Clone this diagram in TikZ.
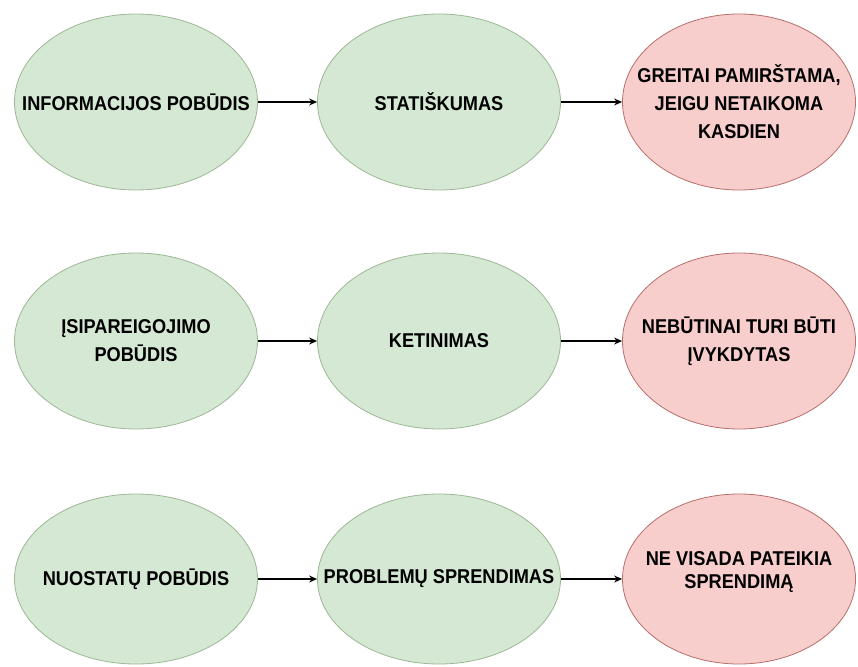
\documentclass[tikz,border=0pt]{standalone}
\usepackage{fontspec}
\setmainfont{Liberation Sans}[FakeStretch=0.91]
\usetikzlibrary{shapes.geometric,arrows.meta}
\definecolor{gfill}{HTML}{D5E8D4}
\definecolor{gline}{HTML}{9CB894}
\definecolor{rfill}{HTML}{F8CECC}
\definecolor{rline}{HTML}{B86E6A}
\begin{document}
\begin{tikzpicture}[x=1pt,y=-1pt,
  oval/.style={ellipse, minimum width=243pt, minimum height=176pt, inner sep=0pt, line width=0.8pt},
  gnode/.style={oval, fill=gfill, draw=gline},
  rnode/.style={oval, fill=rfill, draw=rline, minimum width=233pt},
  lbl/.style={align=center, inner sep=0pt, font=\fontsize{20}{28}\selectfont\bfseries},
  conn/.style={-{Stealth[length=8pt,width=7pt]}, line width=1.2pt, black}]
\useasboundingbox (0,0) rectangle (858,666);
\node[gnode] (a1) at (136,102) {};
\node[gnode] (b1) at (439,102) {};
\node[rnode] (c1) at (739,102) {};
\node[gnode] (a2) at (136,341) {};
\node[gnode] (b2) at (439,341) {};
\node[rnode] (c2) at (739,341) {};
\node[gnode, minimum height=170pt] (a3) at (136,579) {};
\node[gnode, minimum height=170pt] (b3) at (439,579) {};
\node[rnode, minimum height=170pt] (c3) at (739,579) {};
\node[lbl] (ta1) at (a1.center) {INFORMACIJOS POBŪDIS};
\node[lbl] (tb1) at (b1.center) {STATIŠKUMAS};
\node[lbl] (tc1) at (c1.center) {GREITAI PAMIRŠTAMA,\\JEIGU NETAIKOMA\\KASDIEN};
\node[lbl] (ta2) at (a2.center) {ĮSIPAREIGOJIMO\\POBŪDIS};
\node[lbl] (tb2) at (b2.center) {KETINIMAS};
\node[lbl] (tc2) at (c2.center) {NEBŪTINAI TURI BŪTI\\ĮVYKDYTAS};
\node[lbl] (ta3) at (a3.center) {NUOSTATŲ POBŪDIS};
\node[lbl] (tb3) at (b3.center) {PROBLEMŲ SPRENDIMAS};
\node[lbl, font=\fontsize{20}{23}\selectfont\bfseries] (tc3) at ([yshift=7pt]c3.center) {NE VISADA PATEIKIA\\SPRENDIMĄ};
\draw[conn] (a1) -- (b1);
\draw[conn] (b1) -- (c1);
\draw[conn] (a2) -- (b2);
\draw[conn] (b2) -- (c2);
\draw[conn] (a3) -- (b3);
\draw[conn] (b3) -- (c3);
\end{tikzpicture}
\end{document}
